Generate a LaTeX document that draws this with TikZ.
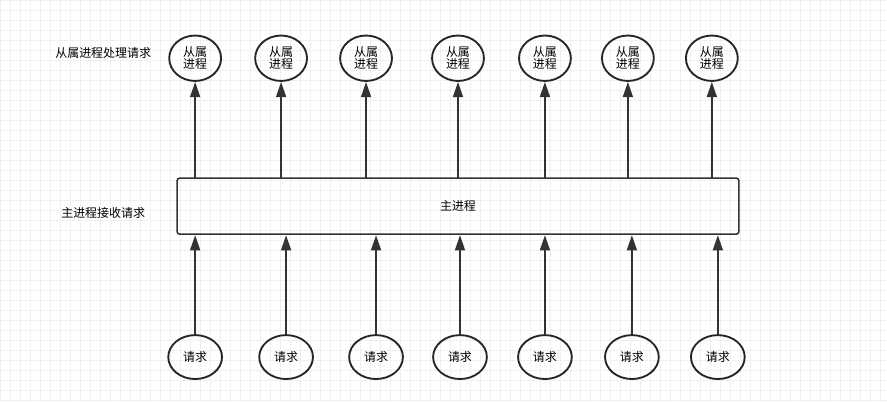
\documentclass[tikz,border=0pt]{standalone}
\usepackage{fontspec}
\setmainfont{Noto Sans CJK SC}
\usetikzlibrary{arrows.meta, shapes.geometric}
\begin{document}
\begin{tikzpicture}[x=0.0264cm, y=-0.0264cm, font=\fontsize{9}{11}\selectfont]
  \tikzstyle{slave}=[ellipse, draw = black!85, line width = 1.4pt, minimum width = 1.37cm, minimum height = 1.2cm, inner sep = 0pt, align = center]
  \tikzstyle{request}=[ellipse, draw = black!85, line width = 1.4pt, minimum width = 1.42cm, minimum height = 1.16cm, inner sep = 0pt]
  \tikzstyle{connect}=[-{Triangle[length=4mm, width=2.6mm]}, line width = 1.4pt, draw = black!80]
  \tikzstyle{master}=[rectangle, rounded corners = 2pt, draw = black!80, line width = 1.2pt, minimum width = 14.84cm, minimum height = 1.48cm]

  \fill[white] (0,0) rectangle (887,402);
  \draw[black!6, step=0.264cm] (0,0) grid (887,402);
  \useasboundingbox (0,0) rectangle (887,402);

  \node[master] (m) at (458,206) { 主进程 };

  \node (tl) at (103,53) { 从属进程处理请求 };
  \node (bl) at (103,213) { 主进程接收请求 };

  % slave processes on top
  \foreach \x [count=\i] in {195,281,366,458,545,628,712} {
    \node[slave] (s\i) at (\x,58) { 从属\\[-2pt]进程 };
    \draw[connect] (\x,178) -- (s\i.south);
  }

  % incoming requests below
  \foreach \x [count=\i] in {195,286,376,460,545,632,718} {
    \node[request] (r\i) at (\x,357) { 请求 };
    \draw[connect] (r\i.north) -- (\x,235);
  }
\end{tikzpicture}
\end{document}
